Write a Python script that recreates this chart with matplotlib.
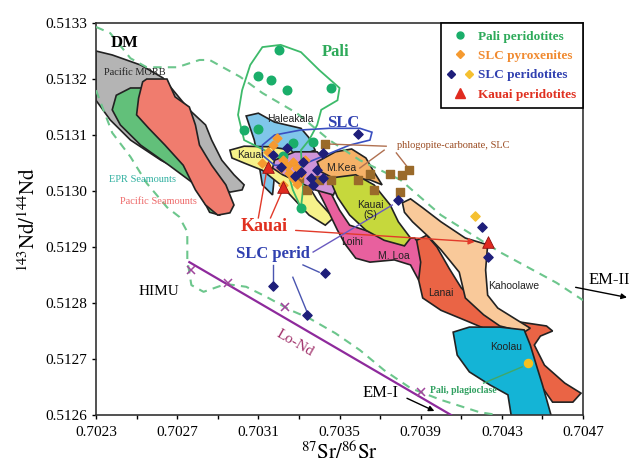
import matplotlib
matplotlib.use("Agg")
import matplotlib.pyplot as plt
from matplotlib.lines import Line2D
from matplotlib.legend_handler import HandlerTuple
from matplotlib.ticker import FormatStrFormatter

plt.rcParams['font.family'] = ['Liberation Serif', 'DejaVu Serif']
plt.rcParams['mathtext.fontset'] = 'stix'

# ---- field outlines (87Sr/86Sr, 143Nd/144Nd) ----
morb_sr = [.70230, .70238, .70252, .70263, .70276, .70284, .70287, .70292, .70298, .70303, .70302, .70296, .70291, .70276, .70262, .70247, .70237, .70230]
morb_nd = [.513250, .513243, .513225, .513202, .513145, .513118, .513091, .513055, .513029, .513011, .513002, .512998, .513007, .513029, .513055, .513091, .513127, .513162]

epr_sr = [.70238, .70240, .70247, .70256, .70262, .70269, .70279, .70289, .70294, .70291, .70286, .70279, .70266, .70252, .70242]
epr_nd = [.513145, .513171, .513184, .513184, .513171, .513127, .513073, .513011, .512975, .512957, .512962, .513011, .513046, .513082, .513118]

pacsea_sr = [.70253, .70255, .70265, .70269, .70276, .70279, .70281, .70287, .70294, .70298, .70296, .70290, .70284, .70279, .70273, .70264, .70256, .70250, .70251]
pacsea_nd = [.513195, .513200, .513200, .513168, .513150, .513118, .513082, .513046, .513011, .512975, .512961, .512957, .512975, .513002, .513046, .513082, .513112, .513136, .513166]

hale_sr = [.70304, .70310, .70318, .70331, .70335, .70338, .70331, .70323, .70318, .70317, .70312, .70310, .70308]
hale_nd = [.513134, .513139, .513123, .513112, .513095, .513073, .513064, .513055, .513029, .512993, .513011, .513055, .513091]

kauai_sr = [.70296, .70303, .70316, .70326, .70331, .70333, .70339, .70347, .70343, .70335, .70328, .70321, .70312, .70303, .70297]
kauai_nd = [.513073, .513080, .513079, .513073, .513055, .513020, .512984, .512952, .512939, .512957, .512984, .513011, .513037, .513050, .513059]

purp_sr = [.70318, .70328, .70339, .70345, .70349, .70347, .70338, .70330, .70322, .70317]
purp_nd = [.513055, .513070, .513070, .513046, .513011, .512993, .513002, .513016, .513029, .513041]

mkea_sr = [.70339, .70348, .70356, .70363, .70367, .70371, .70365, .70355, .70347, .70341]
mkea_nd = [.513052, .513070, .513075, .513059, .513034, .513011, .513020, .513023, .513023, .513034]

kauais_sr = [.70345, .70358, .70367, .70375, .70379, .70385, .70382, .70372, .70363, .70355, .70349]
kauais_nd = [.513023, .513029, .513011, .512975, .512945, .512916, .512902, .512912, .512930, .512957, .512989]

loihi_sr = [.70339, .70345, .70350, .70355, .70365, .70377, .70387, .70392, .70394, .70392, .70389, .70385, .70377, .70365, .70358, .70353, .70349, .70343, .70338]
loihi_nd = [.513029, .513002, .512966, .512939, .512927, .512916, .512916, .512895, .512859, .512836, .512841, .512868, .512877, .512873, .512880, .512904, .512930, .512975, .513011]

lanai_sr = [.70388, .70393, .70398, .70404, .70410, .70419, .70429, .70439, .70452, .70455, .70449, .70446, .70451, .70461, .70469, .70465, .70455, .70449, .70441, .70429, .70414, .70400, .70391, .70389, .70390]
lanai_nd = [.512912, .512921, .512900, .512862, .512827, .512796, .512773, .512766, .512759, .512750, .512741, .512725, .512689, .512657, .512639, .512623, .512623, .512654, .512698, .512743, .512766, .512787, .512809, .512841, .512873]

kaho_sr = [.70381, .70385, .70391, .70400, .70412, .70423, .70422, .70423, .70428, .70436, .70444, .70441, .70429, .70421, .70412, .70409, .70405, .70400, .70394, .70386, .70382]
kaho_nd = [.512979, .512986, .512970, .512945, .512916, .512904, .512859, .512814, .512791, .512773, .512755, .512748, .512759, .512779, .512809, .512855, .512873, .512895, .512918, .512945, .512962]

koolau_sr = [.70406, .70414, .70429, .70441, .70444, .70447, .70450, .70455, .70435, .70433, .70424, .70414, .70408]
koolau_nd = [.512748, .512757, .512757, .512752, .512725, .512689, .512654, .512590, .512590, .512636, .512654, .512677, .512707]

pali_sr = [.70312, .70321, .70331, .70340, .70350, .70349, .70341, .70339, .70335, .70331, .70332, .70331, .70327, .70323, .70313, .70303, .70300, .70302, .70306]
pali_nd = [.513257, .513261, .513248, .513216, .513184, .513162, .513145, .513118, .513091, .513073, .513002, .512970, .513002, .513055, .513073, .513091, .513136, .513180, .513225]

slc_sr = [.70312, .70318, .70331, .70345, .70360, .70366, .70365, .70355, .70343, .70331, .70318, .70312]
slc_nd = [.513082, .513100, .513109, .513112, .513112, .513105, .513091, .513082, .513064, .513046, .513046, .513064]

# mantle array boundaries (dashed)
upper_sr = [.70230, .70237, .70247, .70255, .70270, .70281, .70286, .70301, .70312, .70329, .70345, .70360, .70380, .70400, .70429, .70457, .70470]
upper_nd = [.513293, .513282, .513237, .513221, .513221, .513234, .513234, .513204, .513175, .513139, .513091, .513055, .513020, .512957, .512891, .512836, .512805]
lower_sr = [.70230, .70238, .70247, .70255, .70265, .70271, .70275, .70275, .70277, .70283, .70294, .70304, .70314, .70326, .70335, .70348, .70360, .70372, .70385, .70400, .70419, .70428]
lower_nd = [.513180, .513104, .513061, .513014, .512971, .512954, .512927, .512877, .512832, .512820, .512834, .512829, .512811, .512787, .512773, .512746, .512716, .512680, .512648, .512627, .512605, .512600]

lond_sr = [.70276, .70405]
lond_nd = [.512873, .512600]
lond_x_sr = [.70277, .70295, .70323, .70390]
lond_x_nd = [.512859, .512836, .512793, .512641]

# ---- samples ----
pali_pts_sr = [.70320, .70310, .70316, .70324, .70346, .70303, .70310, .70327, .70337, .70322, .70331]
pali_pts_nd = [.513252, .513205, .513198, .513180, .513184, .513109, .513111, .513086, .513087, .513062, .512970]

pyx_sr = [.70319, .70315, .70322, .70324, .70327, .70329, .70325, .70327, .70321, .70331, .70329, .70317, .70333, .70322, .70312]
pyx_nd = [.513095, .513070, .513055, .513045, .513052, .513041, .513032, .513023, .513041, .513030, .513012, .513082, .513055, .513011, .513050]

perid_sr = [.70359, .70324, .70332, .70339, .70331, .70321, .70317, .70328, .70336, .70337, .70342, .70342, .70379, .70317, .70343, .70334, .70420, .70423]
perid_nd = [.513102, .513077, .513052, .513037, .513034, .513043, .513064, .513027, .513023, .513011, .513068, .513023, .512984, .512830, .512854, .512779, .512936, .512882]

perid_y_sr = [.70417]
perid_y_nd = [.512955]
plag_sr = [.70443]
plag_nd = [.512693]

phlog_sr = [.70343, .70330, .70334, .70340, .70346, .70359, .70365, .70367, .70375, .70380, .70381, .70384]
phlog_nd = [.513084, .513023, .513002, .513020, .513020, .513020, .513030, .513002, .513030, .512998, .513029, .513037]

kauai_pts_sr = [.70315, .70322, .70423]
kauai_pts_nd = [.513043, .513007, .512909]

xticks = [0.7023, 0.7027, 0.7031, 0.7035, 0.7039, 0.7043, 0.7047]
xminor = [0.7025, 0.7029, 0.7033, 0.7037, 0.7041, 0.7045]
yticks = [0.5126, 0.5127, 0.5128, 0.5129, 0.5130, 0.5131, 0.5132, 0.5133]

fig = plt.figure(figsize=(6.34, 4.66), dpi=100)
ax = fig.add_axes([0.1514, 0.1094, 0.7682, 0.8412])

fields = [
    (morb_sr, morb_nd, '#b4b4b4'),
    (epr_sr, epr_nd, '#62c07a'),
    (pacsea_sr, pacsea_nd, '#f07c6e'),
    (hale_sr, hale_nd, '#80c6ea'),
    (kauai_sr, kauai_nd, '#f6f28a'),
    (loihi_sr, loihi_nd, '#e8609e'),
    (purp_sr, purp_nd, '#cf94d8'),
    (mkea_sr, mkea_nd, '#f6b268'),
    (kauais_sr, kauais_nd, '#c6d83c'),
    (lanai_sr, lanai_nd, '#ea6445'),
    (kaho_sr, kaho_nd, '#f9c99a'),
    (koolau_sr, koolau_nd, '#14b4d6'),
]
for xs, ys, c in fields:
    ax.fill(xs, ys, facecolor=c, edgecolor='#222222', linewidth=1.2, zorder=2)

ax.fill(pali_sr, pali_nd, facecolor='none', edgecolor='#3dba6a', linewidth=1.3, zorder=3)
ax.fill(slc_sr, slc_nd, facecolor='none', edgecolor='#3a4fc0', linewidth=1.2, zorder=3)

ax.plot(upper_sr, upper_nd, ls=(0, (4, 3)), color='#6cc68c', lw=1.5, zorder=3)
ax.plot(lower_sr, lower_nd, ls=(0, (4, 3)), color='#6cc68c', lw=1.5, zorder=3)

ax.plot(lond_sr, lond_nd, color='#8e2a9c', lw=1.6, zorder=3)
ax.plot(lond_x_sr, lond_x_nd, 'x', color='#a0469c', ms=6, mew=1.1, zorder=4)

# annotation leader lines
ax.plot([.70310, .70314], [.512952, .513034], color='#e23a2a', lw=1, zorder=4)
ax.plot([.70316, .70322], [.512952, .513002], color='#e23a2a', lw=1, zorder=4)
ax.annotate('', xy=(.70418, .512909), xytext=(.70327, .512930),
            arrowprops=dict(arrowstyle='-|>', color='#e23a2a', lw=1, mutation_scale=9), zorder=4)
ax.plot([.70317, .70317], [.512868, .512836], color='#4a55b0', lw=1, zorder=4)
ax.plot([.70332, .70340], [.512868, .512855], color='#4a55b0', lw=1, zorder=4)
ax.plot([.70327, .70334], [.512846, .512784], color='#4a55b0', lw=1, zorder=4)
ax.plot([.70337, .70376], [.512891, .512975], color='#6a5ac0', lw=1, zorder=4)
ax.plot([.70373, .70344], [.513080, .513084], color='#b07050', lw=1, zorder=4)
ax.plot([.70372, .70360], [.513073, .513041], color='#b07050', lw=1, zorder=4)
ax.plot([.70378, .70383], [.513068, .513045], color='#b07050', lw=1, zorder=4)
ax.plot([.70421, .70440], [.512657, .512686], color='#40a868', lw=1, zorder=4)

ax.scatter(pali_pts_sr, pali_pts_nd, s=38, c='#1aae6a', zorder=5)
ax.scatter(phlog_sr, phlog_nd, s=34, marker='s', c='#9a6a2a', zorder=5)
ax.scatter(pyx_sr, pyx_nd, s=20, marker='D', c='#f59a30', zorder=6)
ax.scatter(perid_sr, perid_nd, s=22, marker='D', c='#1e1e7a', zorder=6)
ax.scatter(perid_y_sr, perid_y_nd, s=22, marker='D', c='#f5c030', zorder=6)
ax.scatter(plag_sr, plag_nd, s=34, c='#f5c020', zorder=6)
ax.scatter(kauai_pts_sr, kauai_pts_nd, s=70, marker='^', c='#e02b20', edgecolors='#901010', linewidths=0.6, zorder=7)

# arrows to end-members
ax.annotate('', xy=(.70398, .512605), xytext=(.70382, .512632),
            arrowprops=dict(arrowstyle='-|>', color='black', lw=1, mutation_scale=8), zorder=8)
ax.annotate('', xy=(.70493, .512809), xytext=(.70465, .512829), annotation_clip=False,
            arrowprops=dict(arrowstyle='-|>', color='black', lw=1, mutation_scale=8), zorder=8)

sans = ['Liberation Sans', 'DejaVu Sans']
labels = [
    ('DM', .70244, .513264, 12, 'black', 'bold', None, 0),
    ('Pacific MORB', .70249, .513212, 7.5, '#222222', 'normal', None, 0),
    ('Pali', .70348, .513248, 12, '#2eaa5a', 'bold', None, 0),
    ('Haleakala', .70326, .513129, 7.5, '#222222', 'normal', sans, 0),
    ('SLC', .70352, .513121, 12, '#3040b0', 'bold', None, 0),
    ('Kauai', .70306, .513064, 7.5, '#222222', 'normal', sans, 0),
    ('M.Kea', .70351, .513041, 7.5, '#222222', 'normal', sans, 0),
    ('phlogopite-carbonate, SLC', .70406, .513082, 7.5, '#9a4a20', 'normal', None, 0),
    ('EPR Seamounts', .70253, .513020, 7.5, '#30b0a0', 'normal', None, 0),
    ('Pacific Seamounts', .70261, .512982, 7.5, '#ee6a6a', 'normal', None, 0),
    ('Kauai', .70313, .512937, 13, '#e03020', 'bold', None, 0),
    ('Kauai\n(S)', .70365, .512966, 7.5, '#222222', 'normal', sans, 0),
    ('Loihi', .70356, .512909, 7.5, '#222222', 'normal', sans, 0),
    ('M. Loa', .70377, .512884, 7.5, '#222222', 'normal', sans, 0),
    ('SLC perid', .70317, .512887, 12, '#3040b0', 'bold', None, 0),
    ('HIMU', .70261, .512820, 11, 'black', 'normal', None, 0),
    ('Lanai', .70400, .512818, 7.5, '#222222', 'normal', sans, 0),
    ('Kahoolawe', .70436, .512830, 7.5, '#222222', 'normal', sans, 0),
    ('Koolau', .70432, .512721, 7.5, '#222222', 'normal', sans, 0),
    ('Pali, plagioclase', .70411, .512643, 7, '#30a060', 'bold', None, 0),
    ('Lo-Nd', .70328, .512729, 11, '#a0306a', 'normal', None, -30),
    ('EM-I', .70370, .512639, 12, 'black', 'normal', None, 0),
    ('EM-II', .70483, .512841, 12, 'black', 'normal', None, 0),
]
for txt, x, y, size, color, weight, fam, rot in labels:
    kw = dict(ha='center', va='center', fontsize=size, color=color, fontweight=weight,
              rotation=rot, zorder=9, clip_on=False, linespacing=0.9)
    if fam:
        kw['family'] = fam
    ax.text(x, y, txt, **kw)

handles = [
    Line2D([], [], ls='none', marker='o', color='#1aae6a', ms=5),
    Line2D([], [], ls='none', marker='D', color='#f59a30', ms=4),
    (Line2D([], [], ls='none', marker='D', color='#1e1e7a', ms=4),
     Line2D([], [], ls='none', marker='D', color='#f5c030', ms=4)),
    Line2D([], [], ls='none', marker='^', color='#e02b20', ms=7),
]
names = ['Pali peridotites', 'SLC pyroxenites', 'SLC peridotites', 'Kauai peridotites']
leg = ax.legend(handles, names, loc='upper right', borderaxespad=0, fancybox=False,
                edgecolor='black', framealpha=1, handlelength=1.8, handletextpad=0.4,
                labelspacing=0.55, borderpad=0.55, prop={'weight': 'bold', 'size': 9.5},
                handler_map={tuple: HandlerTuple(ndivide=None, pad=0.9)})
leg.get_frame().set_linewidth(1.2)
for t, c in zip(leg.get_texts(), ['#2eaa5a', '#f08a30', '#3040b0', '#e03020']):
    t.set_color(c)
leg.set_zorder(10)

ax.set_xlim(0.7023, 0.7047)
ax.set_ylim(0.5126, 0.5133)
ax.set_xticks(xticks)
ax.set_xticks(xminor, minor=True)
ax.set_yticks(yticks)
ax.xaxis.set_major_formatter(FormatStrFormatter('%.4f'))
ax.yaxis.set_major_formatter(FormatStrFormatter('%.4f'))
ax.tick_params(which='both', direction='out', length=3, width=1, labelsize=11)
ax.tick_params(axis='x', pad=5)
for s in ax.spines.values():
    s.set_linewidth(1.2)
    s.set_color('#333333')

ax.set_xlabel(r'$^{87}\mathrm{Sr}/^{86}\mathrm{Sr}$', fontsize=15, labelpad=2)
ax.set_ylabel(r'$^{143}\mathrm{Nd}/^{144}\mathrm{Nd}$', fontsize=15, labelpad=4)

fig.savefig('out.png', dpi=100)
